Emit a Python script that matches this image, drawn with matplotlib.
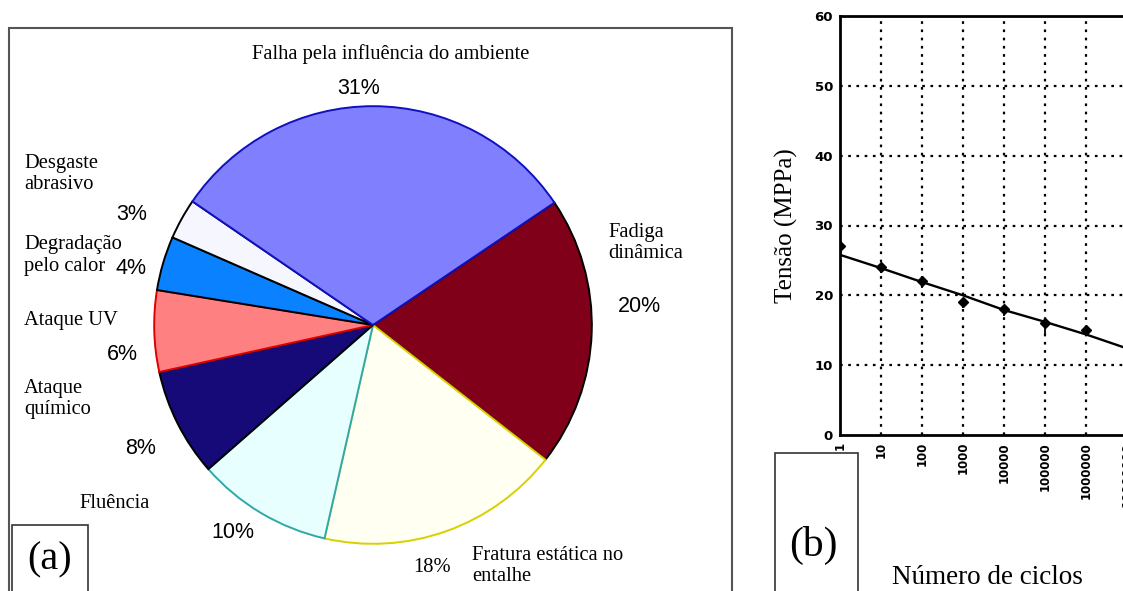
import numpy as np
import matplotlib.pyplot as plt
from matplotlib.patches import Rectangle

W, H = 1123, 591

# (a) pie: failure causes, clockwise from the upper-right boundary
causes = ["Fadiga dinâmica", "Fratura estática no entalhe", "Fluência", "Ataque químico",
          "Ataque UV", "Degradação pelo calor", "Desgaste abrasivo",
          "Falha pela influência do ambiente"]
shares = [20, 18, 10, 8, 6, 4, 3, 31]
pie_colors = ["#7f0018", "#fffff2", "#e8ffff", "#150a78", "#ff8080", "#0a82ff", "#f6f6ff", "#8080ff"]
pie_edges = ["black", "#d8d000", "#30a8a8", "black", "#e00000", "black", "black", "#1010c0"]

# (b) stress vs number of cycles
cycles = [1, 10, 100, 1000, 10000, 100000, 1000000]
stress = [27, 24, 22, 19, 18, 16, 15]
stress_err_low = [0.5, 0.8, 1.0, 0.8, 1.0, 1.8, 0.4]
fit_cycles = [1, 10, 100, 1000, 10000, 100000, 1000000, 10000000]
fit_stress = [25.8, 23.9, 21.9, 20.0, 17.9, 16.2, 14.4, 12.4]
x_ticks = [1, 10, 100, 1000, 10000, 100000, 1000000, 10000000]
y_ticks = [0, 10, 20, 30, 40, 50, 60]

SERIF = "Liberation Serif"
SANS = "Liberation Sans"


def fx(px):
    return px / W


def fy(py):
    return 1 - py / H


def box(fig, x0, y0, x1, y1, color, lw):
    fig.add_artist(Rectangle((fx(x0), fy(y1)), fx(x1) - fx(x0), fy(y0) - fy(y1),
                             transform=fig.transFigure, fill=False, edgecolor=color, linewidth=lw))


fig = plt.figure(figsize=(W / 100, H / 100), dpi=100)

# ---- panel (a) ----
box(fig, 9, 28, 732, 600, "#555555", 1.5)
cx, cy, r = 373, 325, 221
ax = fig.add_axes([fx(cx - r), fy(cy + r), 2 * r / W, 2 * r / H])
wedges, _ = ax.pie(shares, colors=pie_colors, startangle=34, counterclock=False, radius=1,
                   wedgeprops=dict(linewidth=1.4))
for w, ec in zip(wedges, pie_edges):
    w.set_edgecolor(ec)
ax.set_xlim(-1.01, 1.01)
ax.set_ylim(-1.01, 1.01)
ax.axis("off")

serif_kw = dict(family=SERIF, fontsize=14.8, va="center", linespacing=1.2)
sans_kw = dict(family=SANS, fontsize=15.5, va="center", ha="center")

fig.text(fx(391), fy(54), "Falha pela influência do ambiente", ha="center", **serif_kw)
fig.text(fx(359), fy(89), "31%", **sans_kw)
fig.text(fx(24), fy(174), "Desgaste\nabrasivo", ha="left", **serif_kw)
fig.text(fx(132), fy(215), "3%", **sans_kw)
fig.text(fx(24), fy(244), "Degradação", ha="left", **serif_kw)
fig.text(fx(24), fy(267), "pelo calor", ha="left", **serif_kw)
fig.text(fx(131), fy(268), "4%", **sans_kw)
fig.text(fx(24), fy(320), "Ataque UV", ha="left", **serif_kw)
fig.text(fx(122), fy(355), "6%", **sans_kw)
fig.text(fx(24), fy(399), "Ataque\nquímico", ha="left", **serif_kw)
fig.text(fx(141), fy(449), "8%", **sans_kw)
fig.text(fx(115), fy(504), "Fluência", ha="center", **serif_kw)
fig.text(fx(233), fy(532), "10%", **sans_kw)
fig.text(fx(472), fy(566), "Fratura estática no\nentalhe", ha="left", **serif_kw)
fig.text(fx(432), fy(567), "18%", family=SERIF, fontsize=14.8, va="center", ha="center")
fig.text(fx(608), fy(243), "Fadiga\ndinâmica", ha="left", **serif_kw)
fig.text(fx(639), fy(306), "20%", **sans_kw)

box(fig, 12, 525, 88, 600, "#333333", 1.2)
fig.text(fx(50), fy(560), "(a)", family=SERIF, fontsize=29, ha="center", va="center")

# ---- panel (b) ----
x0, x1 = 840, 840 + 41 * 8
y_top, y_bot = 16, 435
bx = fig.add_axes([fx(x0), fy(y_bot), (x1 - x0) / W, (y_bot - y_top) / H])
bx.set_xscale("log")
bx.set_xlim(1, 1e8)
bx.set_ylim(0, 60)
for xv in x_ticks[1:]:
    bx.axvline(xv, color="black", linestyle=(0, (1.2, 2.5)), linewidth=1.6, zorder=1)
for yv in y_ticks[1:-1]:
    bx.axhline(yv, color="black", linestyle=(0, (1.2, 2.5)), linewidth=1.6, zorder=1)
bx.plot(fit_cycles, fit_stress, color="black", linewidth=1.7, zorder=3)
bx.errorbar(cycles, stress, yerr=[stress_err_low, [0] * len(stress)], fmt="D", color="black",
            markersize=5, elinewidth=1.3, capsize=0, zorder=4)
bx.set_xticks(x_ticks)
bx.set_xticklabels([str(v) for v in x_ticks], rotation=90, fontsize=8.5, fontweight="bold",
                   family="DejaVu Sans")
bx.set_yticks(y_ticks)
bx.set_yticklabels([str(v) for v in y_ticks], fontsize=9.5, fontweight="bold", family="DejaVu Sans")
bx.minorticks_off()
bx.tick_params(length=0, pad=5)
bx.tick_params(axis="x", pad=5)
for side in ["left", "bottom", "top"]:
    bx.spines[side].set_linewidth(2)
bx.spines["right"].set_visible(False)
bx.set_ylabel("Tensão (MPPa)", family=SERIF, fontsize=18, labelpad=12)
fig.text(fx(987), fy(577), "Número de ciclos", family=SERIF, fontsize=19.5, ha="center", va="center")

box(fig, 775, 453, 858, 600, "#333333", 1.2)
fig.text(fx(813), fy(545), "(b)", family=SERIF, fontsize=30, ha="center", va="center")

fig.savefig("out.png", dpi=100)
